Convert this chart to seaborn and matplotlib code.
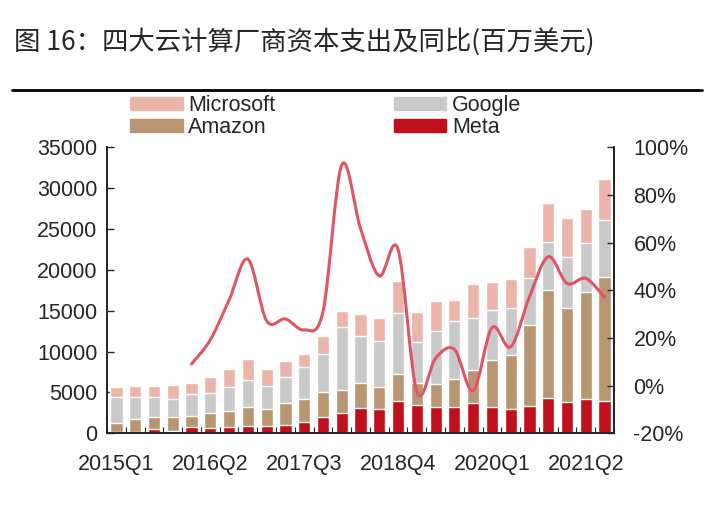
import numpy as np
import pandas as pd
import matplotlib.pyplot as plt
import seaborn as sns
from matplotlib.patches import Patch, PathPatch
from matplotlib.path import Path
from matplotlib.lines import Line2D
from matplotlib.ticker import PercentFormatter

# 2015Q1 - 2021Q3，百万美元
quarters = [f"{y}Q{q}" for y in range(2015, 2022) for q in range(1, 5)][:27]
meta = [200, 200, 490, 320, 810, 650, 730, 940, 940, 1060, 1420, 1960, 2450, 3050,
        2940, 3950, 3460, 3260, 3180, 3750, 3180, 2940, 3340, 4280, 3870, 4240, 3950]
amazon = [1020, 1510, 1470, 1640, 1310, 1880, 2040, 2240, 2000, 2690, 2740, 3100, 2850, 3070,
          2690, 3270, 2740, 2740, 3430, 4000, 5790, 6640, 9920, 13260, 11430, 13090, 15140]
google = [3190, 2700, 2450, 2200, 2690, 2440, 2860, 3350, 2850, 3180, 3920, 4650, 7680, 5790,
          5670, 7470, 5010, 6480, 7170, 6400, 6120, 5720, 5710, 5910, 6320, 5930, 7020]
microsoft = [1220, 1380, 1380, 1750, 1310, 1920, 2200, 2570, 2040, 1920, 1630, 2240, 2030, 2690,
             2850, 3950, 3600, 3680, 2500, 4090, 3390, 3550, 3800, 4700, 4770, 4160, 4980]
# 同比，从 2016Q1 开始
yoy = [0.091, 0.192, 0.359, 0.531, 0.272, 0.28, 0.234, 0.31, 0.926, 0.66, 0.46, 0.572,
       -0.025, 0.115, 0.152, -0.021, 0.243, 0.163, 0.373, 0.541, 0.429, 0.45, 0.371]
yoy_start = 4

C_MS = "#EBB5A9"
C_GOOGLE = "#C9C9C9"
C_AMAZON = "#B99672"
C_META = "#C20F1E"
C_LINE = "#E05565"

sns.set_theme(style="white")
plt.rcParams["font.family"] = ["Liberation Sans", "Noto Sans CJK SC", "DejaVu Sans"]
plt.rcParams["axes.unicode_minus"] = False

df = pd.DataFrame({"季度": quarters, "Meta": meta, "Amazon": amazon,
                   "Google": google, "Microsoft": microsoft})
df["c_meta"] = df["Meta"]
df["c_amazon"] = df["c_meta"] + df["Amazon"]
df["c_google"] = df["c_amazon"] + df["Google"]
df["c_ms"] = df["c_google"] + df["Microsoft"]

fig = plt.figure(figsize=(7.15, 5.08), dpi=100)
ax = fig.add_axes([0.1497, 0.147, 0.709, 0.563])

for col, color in [("c_ms", C_MS), ("c_google", C_GOOGLE), ("c_amazon", C_AMAZON), ("c_meta", C_META)]:
    sns.barplot(data=df, x="季度", y=col, color=color, saturation=1, width=0.65,
                errorbar=None, ax=ax)

ax.set_xlim(-0.5, 26.5)
ax.set_ylim(0, 35000)
ax.set_yticks(range(0, 35001, 5000))
ax.set_xticks(range(0, 27, 5))
ax.set_xticklabels(quarters[::5])
ax.set_xticks(np.arange(-0.5, 27, 1), minor=True)
ax.set_xlabel("")
ax.set_ylabel("")
ax.tick_params(axis="y", left=True, direction="in", length=5, width=1, labelsize=15.5, pad=7)
ax.tick_params(axis="x", which="major", bottom=False, labelsize=15.5, pad=9)
ax.tick_params(axis="x", which="minor", bottom=True, direction="in", length=4, width=0.8)
for s in ["left", "bottom", "right"]:
    ax.spines[s].set_color("#222222")
ax.spines["top"].set_visible(False)

ax2 = ax.twinx()
ax2.set_ylim(-0.2, 1.0)
ax2.set_yticks(np.arange(-0.2, 1.01, 0.2))
ax2.yaxis.set_major_formatter(PercentFormatter(1.0, decimals=0))
ax2.tick_params(axis="y", right=True, direction="in", length=5, width=1, labelsize=15.5, pad=14)
ax2.spines["top"].set_visible(False)
ax2.spines["right"].set_color("#222222")
ax2.grid(False)


def smooth_path(xs, ys):
    pts = np.column_stack([xs, ys]).astype(float)
    n = len(pts)
    verts, codes = [pts[0]], [Path.MOVETO]
    for i in range(n - 1):
        p0, p1 = pts[max(i - 1, 0)], pts[i]
        p2, p3 = pts[i + 1], pts[min(i + 2, n - 1)]
        verts += [p1 + (p2 - p0) / 6, p2 - (p3 - p1) / 6, p2]
        codes += [Path.CURVE4] * 3
    return Path(verts, codes)


xs = np.arange(yoy_start, yoy_start + len(yoy))
ax2.add_patch(PathPatch(smooth_path(xs, yoy), fill=False, edgecolor=C_LINE, lw=2.2,
                        capstyle="round", joinstyle="round"))

handles = [Patch(color=C_MS), Patch(color=C_AMAZON), Patch(color=C_GOOGLE), Patch(color=C_META)]
labels = ["Microsoft", "Amazon", "Google", "Meta"]
fig.legend(handles, labels, ncol=2, loc="upper left", bbox_to_anchor=(130 / 715, 1 - 95 / 508),
           frameon=False, fontsize=15.5, handlelength=2.45, handleheight=0.6,
           handletextpad=0.25, columnspacing=5.5, labelspacing=0.05,
           borderpad=0, borderaxespad=0)

fig.text(14 / 715, 1 - 42 / 508, "图 16：四大云计算厂商资本支出及同比(百万美元)",
         fontsize=19, va="center", ha="left", family=["Noto Sans CJK SC", "DejaVu Sans"])
fig.add_artist(Line2D([12 / 715, 702 / 715], [1 - 90 / 508] * 2, color="black", lw=2))

fig.savefig("out.png", dpi=100)
